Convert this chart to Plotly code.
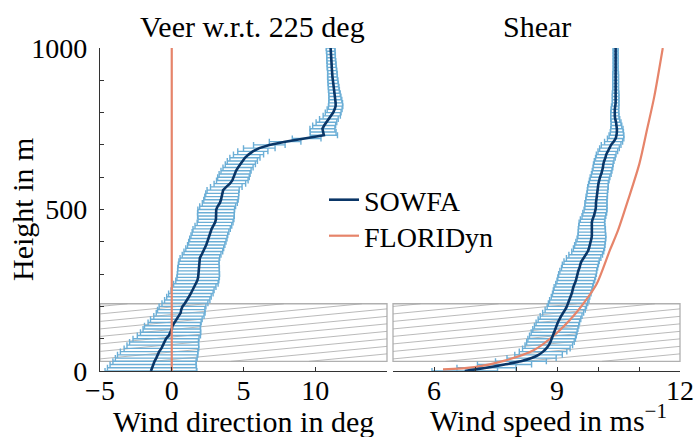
import plotly.graph_objects as go

# ---------------- data ----------------
heights = list(range(0, 1001, 10))  # m

sowfa_veer = [
    -1.45, -1.38, -1.30, -1.20, -1.08, -0.98, -0.88, -0.72, -0.62, -0.54,
    -0.40, -0.20, -0.08, 0.00, 0.05, 0.20, 0.32, 0.50, 0.62, 0.66,
    0.75, 0.92, 1.08, 1.20, 1.33, 1.45, 1.56, 1.68, 1.78, 1.84,
    1.86, 1.86, 1.87, 1.88, 1.90, 1.96, 2.08, 2.20, 2.30, 2.40,
    2.48, 2.55, 2.62, 2.70, 2.78, 2.90, 3.02, 3.08, 3.08, 3.08,
    3.10, 3.20, 3.35, 3.43, 3.48, 3.52, 3.58, 3.80, 4.05, 4.22,
    4.30, 4.38, 4.48, 4.62, 4.78, 4.92, 5.10, 5.35, 5.65, 6.10,
    6.80, 7.90, 9.40, 10.60, 10.55, 10.50, 10.62, 10.78, 10.95, 11.15,
    11.25, 11.35, 11.42, 11.42, 11.40, 11.37, 11.34, 11.30, 11.28, 11.25,
    11.23, 11.20, 11.20, 11.18, 11.15, 11.14, 11.12, 11.10, 11.10, 11.08,
    11.07,
]
sowfa_veer_std = [
    3.20, 3.10, 3.00, 2.90, 2.85, 2.80, 2.70, 2.60, 2.50, 2.40,
    2.30, 2.20, 2.10, 2.00, 1.95, 1.85, 1.80, 1.75, 1.70, 1.65,
    1.63, 1.60, 1.58, 1.55, 1.55, 1.50, 1.52, 1.55, 1.50, 1.48,
    1.47, 1.45, 1.45, 1.42, 1.40, 1.38, 1.35, 1.35, 1.32, 1.30,
    1.30, 1.30, 1.28, 1.28, 1.30, 1.28, 1.25, 1.25, 1.28, 1.28,
    1.28, 1.25, 1.22, 1.20, 1.18, 1.15, 1.12, 1.10, 1.10, 1.10,
    1.10, 1.08, 1.05, 1.05, 1.05, 1.05, 1.05, 1.05, 1.05, 1.10,
    1.10, 1.10, 1.00, 0.95, 0.90, 0.87, 0.80, 0.72, 0.65, 0.60,
    0.55, 0.52, 0.50, 0.48, 0.45, 0.42, 0.40, 0.38, 0.37, 0.36,
    0.35, 0.34, 0.33, 0.32, 0.32, 0.31, 0.31, 0.30, 0.30, 0.30,
    0.30,
]
sowfa_speed = [
    6.75, 7.28, 7.72, 8.12, 8.38, 8.55, 8.66, 8.74, 8.80, 8.84,
    8.87, 8.90, 8.93, 8.96, 8.99, 9.02, 9.06, 9.10, 9.15, 9.20,
    9.24, 9.27, 9.30, 9.33, 9.36, 9.38, 9.40, 9.43, 9.46, 9.48,
    9.50, 9.52, 9.55, 9.57, 9.60, 9.65, 9.70, 9.75, 9.78, 9.80,
    9.82, 9.84, 9.85, 9.85, 9.85, 9.85, 9.85, 9.87, 9.90, 9.92,
    9.94, 9.95, 9.95, 9.96, 9.97, 9.98, 9.99, 10.00, 10.01, 10.03,
    10.05, 10.08, 10.10, 10.12, 10.13, 10.15, 10.18, 10.20, 10.24, 10.28,
    10.32, 10.38, 10.43, 10.45, 10.46, 10.46, 10.45, 10.44, 10.42, 10.41,
    10.41, 10.41, 10.42, 10.43, 10.43, 10.43, 10.43, 10.43, 10.43, 10.43,
    10.43, 10.43, 10.43, 10.43, 10.43, 10.43, 10.43, 10.43, 10.43, 10.43,
    10.43,
]
sowfa_speed_std = [
    0.80, 0.72, 0.66, 0.62, 0.60, 0.58, 0.58, 0.58, 0.58, 0.58,
    0.58, 0.57, 0.56, 0.55, 0.54, 0.53, 0.52, 0.51, 0.50, 0.49,
    0.48, 0.48, 0.48, 0.47, 0.47, 0.47, 0.47, 0.46, 0.46, 0.46,
    0.46, 0.45, 0.44, 0.44, 0.43, 0.42, 0.41, 0.39, 0.38, 0.37,
    0.36, 0.35, 0.34, 0.33, 0.33, 0.32, 0.31, 0.30, 0.29, 0.29,
    0.28, 0.27, 0.27, 0.26, 0.26, 0.25, 0.25, 0.25, 0.24, 0.24,
    0.24, 0.24, 0.24, 0.24, 0.24, 0.24, 0.24, 0.24, 0.24, 0.24,
    0.24, 0.22, 0.20, 0.18, 0.16, 0.15, 0.13, 0.12, 0.11, 0.10,
    0.10, 0.09, 0.09, 0.08, 0.08, 0.08, 0.08, 0.07, 0.07, 0.07,
    0.07, 0.07, 0.07, 0.06, 0.06, 0.06, 0.06, 0.06, 0.06, 0.06,
    0.06,
]

floridyn_veer_heights = [0, 1000]
floridyn_veer = [0.0, 0.0]

floridyn_speed_heights = [5, 12, 33, 64, 116, 170, 220, 270, 374, 436, 528, 642, 750, 848, 1000]
floridyn_speed = [6.22, 6.99, 7.75, 8.43, 8.98, 9.40, 9.71, 9.97, 10.29, 10.49, 10.73, 11.01, 11.20, 11.37, 11.58]

veer_ticks = [-5, 0, 5, 10]
speed_ticks = [6, 9, 12]
height_ticks = [0, 500, 1000]

hub_height = 119.0
rotor_diameter = 178.3

# ---------------- style ----------------
DARK = "#0a3667"
LIGHT = "#6baed6"
ORANGE = "#e6846a"
AXC = "#333333"
FONT = "Liberation Serif"
FS_TICK = 28
FS_TEXT = 30
FS_LEG = 28

W, H = 695, 437
ML, MR, MT, MB = 100, 15, 48, 66
PW = W - ML - MR          # 580
PH = H - MT - MB          # 323
GAP = 6
panel_w = (PW - GAP) / 2  # 287

fig = go.Figure()

# SOWFA veer error bars + mean
fig.add_trace(go.Scatter(
    x=sowfa_veer, y=heights, mode="markers",
    marker=dict(size=1, color="rgba(0,0,0,0)"),
    error_x=dict(type="data", array=sowfa_veer_std, color=LIGHT, thickness=1.4, width=3),
    showlegend=False, xaxis="x", yaxis="y", hoverinfo="skip"))
fig.add_trace(go.Scatter(
    x=sowfa_veer, y=heights, mode="lines", name="SOWFA", legend="legend",
    line=dict(color=DARK, width=2.6), xaxis="x", yaxis="y"))
fig.add_trace(go.Scatter(
    x=floridyn_veer, y=floridyn_veer_heights, mode="lines", name="FLORIDyn", legend="legend2",
    line=dict(color=ORANGE, width=2.2), xaxis="x", yaxis="y"))

# SOWFA shear
fig.add_trace(go.Scatter(
    x=sowfa_speed, y=heights, mode="markers",
    marker=dict(size=1, color="rgba(0,0,0,0)"),
    error_x=dict(type="data", array=sowfa_speed_std, color=LIGHT, thickness=1.4, width=3),
    showlegend=False, xaxis="x2", yaxis="y2", hoverinfo="skip"))
fig.add_trace(go.Scatter(
    x=floridyn_speed, y=floridyn_speed_heights, mode="lines", showlegend=False,
    line=dict(color=ORANGE, width=2.2, shape="spline", smoothing=0.8), xaxis="x2", yaxis="y2"))
fig.add_trace(go.Scatter(
    x=sowfa_speed, y=heights, mode="lines", showlegend=False,
    line=dict(color=DARK, width=2.6, shape="spline", smoothing=0.5), xaxis="x2", yaxis="y2"))

# rotor-region boxes with shallow hatch
r_lo = hub_height - rotor_diameter / 2
r_hi = hub_height + rotor_diameter / 2
px_per_m = PH / 1000.0
shapes = []
slope = 0.096
spacing = 7.5
for xr, yr in (("x domain", "y"), ("x2 domain", "y2")):
    shapes.append(dict(type="rect", xref=xr, yref=yr, x0=0, x1=1, y0=r_lo, y1=r_hi,
                       line=dict(color="#b0b0b0", width=1.3), layer="below"))
    b = r_lo * px_per_m
    t = r_hi * px_per_m
    c = b - slope * panel_w
    while c < t:
        xa = max(0.0, (b - c) / slope)
        xb = min(panel_w, (t - c) / slope)
        if xb - xa > 0.5:
            shapes.append(dict(type="line", xref=xr, yref=yr,
                               x0=xa / panel_w, x1=xb / panel_w,
                               y0=(c + slope * xa) / px_per_m, y1=(c + slope * xb) / px_per_m,
                               line=dict(color="#a8a8a8", width=0.8), layer="below"))
        c += spacing

d1 = [0, panel_w / PW]
d2 = [1 - panel_w / PW, 1]

axis_common = dict(showgrid=False, zeroline=False, linecolor=AXC, linewidth=1.3,
                   tickcolor=AXC, automargin=False,
                   tickfont=dict(family=FONT, size=FS_TICK, color="black"))

legend_common = dict(xanchor="left", yanchor="middle", bgcolor="rgba(0,0,0,0)",
                     font=dict(family=FONT, size=FS_LEG), itemwidth=30)

fig.update_layout(
    width=W, height=H,
    margin=dict(l=ML, r=MR, t=MT, b=MB, autoexpand=False),
    paper_bgcolor="white", plot_bgcolor="white",
    font=dict(family=FONT, size=FS_TEXT, color="black"),
    shapes=shapes,
    xaxis=dict(domain=d1, range=[-5, 15], tickvals=veer_ticks, ticks="inside", ticklen=4,
               showline=True, anchor="y", ticklabelstandoff=-6, **axis_common),
    xaxis2=dict(domain=d2, range=[5, 12], tickvals=speed_ticks, ticks="inside", ticklen=4,
                minor=dict(dtick=1, tick0=0, ticks="inside", ticklen=4, tickcolor=AXC),
                showline=True, anchor="y2", ticklabelstandoff=-6, **axis_common),
    yaxis=dict(domain=[0, 1], range=[0, 1000], tickvals=height_ticks, ticks="inside", ticklen=4,
               minor=dict(dtick=100, tick0=0, ticks="inside", ticklen=4, tickcolor=AXC),
               showline=True, anchor="x", ticklabelstandoff=6, **axis_common),
    yaxis2=dict(domain=[0, 1], range=[0, 1000], showticklabels=False, ticks="",
                showline=False, anchor="x2", matches="y", showgrid=False, zeroline=False,
                automargin=False),
    legend=dict(x=(324 - ML) / PW, y=(MT + PH - 200) / PH, **legend_common),
    legend2=dict(x=(324 - ML) / PW, y=(MT + PH - 236) / PH, **legend_common),
    annotations=[
        dict(text="Veer w.r.t. 225 deg", xref="paper", yref="paper",
             x=(d1[0] + d1[1]) / 2 + 0.015, y=1 + (MT - 27) / PH, xanchor="center", yanchor="middle",
             showarrow=False, font=dict(family=FONT, size=FS_TEXT)),
        dict(text="Shear", xref="paper", yref="paper",
             x=(d2[0] + d2[1]) / 2, y=1 + (MT - 27) / PH, xanchor="center", yanchor="middle",
             showarrow=False, font=dict(family=FONT, size=FS_TEXT)),
        dict(text="Wind direction in deg", xref="paper", yref="paper",
             x=(d1[0] + d1[1]) / 2, y=-(421 - MT - PH) / PH, xanchor="center", yanchor="middle",
             showarrow=False, font=dict(family=FONT, size=FS_TEXT)),
        dict(text="Wind speed in ms<sup>−1</sup>", xref="paper", yref="paper",
             x=(d2[0] + d2[1]) / 2 + 0.02, y=-(418 - MT - PH) / PH, xanchor="center", yanchor="middle",
             showarrow=False, font=dict(family=FONT, size=FS_TEXT)),
        dict(text="Height in m", xref="paper", yref="paper",
             x=-(ML - 22) / PW, y=(MT + PH - 210) / PH, xanchor="center", yanchor="middle",
             textangle=-90, showarrow=False, font=dict(family=FONT, size=FS_TEXT)),
    ],
)

fig.write_html("out.html")
